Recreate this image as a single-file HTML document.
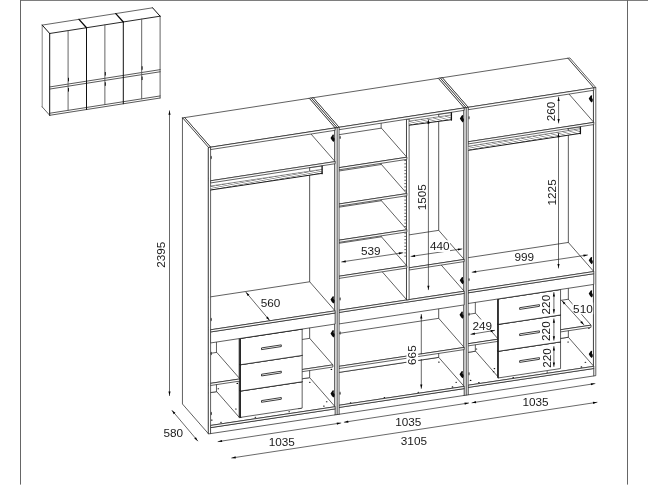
<!DOCTYPE html>
<html>
<head>
<meta charset="utf-8">
<title>Wardrobe dimensions</title>
<style>
html,body{margin:0;padding:0;background:#fff;}
body{width:648px;height:486px;overflow:hidden;}
svg{display:block;will-change:transform;}
text{font-family:"Liberation Sans",sans-serif;fill:#1a1a1a;}
</style>
</head>
<body>
<svg width="648" height="486" viewBox="0 0 648 486">
<rect x="0" y="0" width="648" height="486" fill="#fff"/>
<g stroke-linejoin="round" stroke-linecap="round">
<polygon points="567.89,58.26 569.90,57.95 595.80,87.55 593.80,87.86" fill="#fff" stroke="#1c1c1c" stroke-width="0.7" />
<polygon points="567.89,346.35 593.80,375.95 593.80,87.86 567.89,58.26" fill="#fff" stroke="#1c1c1c" stroke-width="0.7" />
<polygon points="593.80,375.95 595.80,375.65 595.80,87.55 593.80,87.86" fill="#fff" stroke="#1c1c1c" stroke-width="0.7" />
<polygon points="467.37,386.49 592.99,367.57 593.80,368.49 468.17,387.41" fill="#fff" stroke="#1c1c1c" stroke-width="0.7" />
<polygon points="467.37,393.93 468.17,394.85 468.17,387.41 467.37,386.49" fill="#fff" stroke="#1c1c1c" stroke-width="0.7" />
<polygon points="468.17,394.85 593.80,375.95 593.80,368.49 468.17,387.41" fill="#fff" stroke="#1c1c1c" stroke-width="0.7" />
<polygon points="442.71,356.16 568.34,337.24 593.80,366.33 468.17,385.25" fill="#fff" stroke="#1c1c1c" stroke-width="0.7" />
<polygon points="442.71,358.32 468.17,387.41 468.17,385.25 442.71,356.16" fill="#fff" stroke="#1c1c1c" stroke-width="0.7" />
<polygon points="468.17,387.41 593.80,368.49 593.80,366.33 468.17,385.25" fill="#fff" stroke="#1c1c1c" stroke-width="0.7" />
<polygon points="442.27,80.11 567.89,60.67 568.34,61.18 442.71,80.62" fill="#fff" stroke="#1c1c1c" stroke-width="0.7" />
<polygon points="442.27,355.65 442.71,356.16 442.71,80.62 442.27,80.11" fill="#fff" stroke="#1c1c1c" stroke-width="0.7" />
<polygon points="442.71,356.16 568.34,337.24 568.34,61.18 442.71,80.62" fill="#fff" stroke="#1c1c1c" stroke-width="0.7" />
<polygon points="442.71,112.68 568.34,93.29 593.80,122.38 468.17,141.77" fill="#fff" stroke="#1c1c1c" stroke-width="0.7" />
<polygon points="442.71,114.84 468.17,143.93 468.17,141.77 442.71,112.68" fill="#fff" stroke="#1c1c1c" stroke-width="0.7" />
<polygon points="468.17,143.93 593.80,124.55 593.80,122.38 468.17,141.77" fill="#fff" stroke="#1c1c1c" stroke-width="0.7" />
<polygon points="442.27,77.71 567.89,58.26 593.80,87.86 468.17,107.31" fill="#fff" stroke="#1c1c1c" stroke-width="0.7" />
<polygon points="442.27,80.11 468.17,109.71 468.17,107.31 442.27,77.71" fill="#fff" stroke="#1c1c1c" stroke-width="0.7" />
<polygon points="468.17,109.71 593.80,90.26 593.80,87.86 468.17,107.31" fill="#fff" stroke="#1c1c1c" stroke-width="0.7" />
<polygon points="475.60,269.76 477.85,269.42 500.63,295.45 498.38,295.79" fill="#fff" stroke="#1c1c1c" stroke-width="0.7" />
<polygon points="475.60,351.21 498.38,377.23 498.38,295.79 475.60,269.76" fill="#fff" stroke="#1c1c1c" stroke-width="0.7" />
<polygon points="498.38,377.23 500.63,376.89 500.63,295.45 498.38,295.79" fill="#fff" stroke="#1c1c1c" stroke-width="0.7" />
<polygon points="442.71,318.22 475.60,313.25 498.29,339.17 465.40,344.14" fill="#fff" stroke="#1c1c1c" stroke-width="0.7" />
<polygon points="442.71,320.38 465.40,346.30 465.40,344.14 442.71,318.22" fill="#fff" stroke="#1c1c1c" stroke-width="0.7" />
<polygon points="465.40,346.30 498.29,341.33 498.29,339.17 465.40,344.14" fill="#fff" stroke="#1c1c1c" stroke-width="0.7" />
<polygon points="536.85,303.99 568.34,299.23 591.03,325.15 559.54,329.91" fill="#fff" stroke="#1c1c1c" stroke-width="0.7" />
<polygon points="536.85,306.15 559.54,332.08 559.54,329.91 536.85,303.99" fill="#fff" stroke="#1c1c1c" stroke-width="0.7" />
<polygon points="559.54,332.08 591.03,327.32 591.03,325.15 559.54,329.91" fill="#fff" stroke="#1c1c1c" stroke-width="0.7" />
<polygon points="534.59,260.81 536.85,260.46 559.63,286.49 557.37,286.83" fill="#fff" stroke="#1c1c1c" stroke-width="0.7" />
<polygon points="534.59,342.32 557.37,368.35 557.37,286.83 534.59,260.81" fill="#fff" stroke="#1c1c1c" stroke-width="0.7" />
<polygon points="557.37,368.35 559.63,368.01 559.63,286.49 557.37,286.83" fill="#fff" stroke="#1c1c1c" stroke-width="0.7" />
<polygon points="497.95,350.87 560.19,341.47 560.55,341.88 498.31,351.28" fill="#fff" stroke="#1c1c1c" stroke-width="0.7" />
<polygon points="497.95,377.54 498.31,377.94 498.31,351.28 497.95,350.87" fill="#fff" stroke="#1c1c1c" stroke-width="0.7" />
<polygon points="498.31,377.94 560.55,368.57 560.55,341.88 498.31,351.28" fill="#fff" stroke="#1c1c1c" stroke-width="0.7" />
<line x1="498.31" y1="377.94" x2="498.31" y2="351.28" stroke="#1c1c1c" stroke-width="0.9" />
<line x1="498.31" y1="351.28" x2="560.55" y2="341.88" stroke="#1c1c1c" stroke-width="1.0" />
<polygon points="497.95,323.97 560.19,314.54 560.55,314.95 498.31,324.37" fill="#fff" stroke="#1c1c1c" stroke-width="0.7" />
<polygon points="497.95,350.87 498.31,351.28 498.31,324.37 497.95,323.97" fill="#fff" stroke="#1c1c1c" stroke-width="0.7" />
<polygon points="498.31,351.28 560.55,341.88 560.55,314.95 498.31,324.37" fill="#fff" stroke="#1c1c1c" stroke-width="0.7" />
<line x1="498.31" y1="351.28" x2="498.31" y2="324.37" stroke="#1c1c1c" stroke-width="0.9" />
<line x1="498.31" y1="324.37" x2="560.55" y2="314.95" stroke="#1c1c1c" stroke-width="1.0" />
<polygon points="497.95,298.50 560.19,289.05 560.55,289.46 498.31,298.91" fill="#fff" stroke="#1c1c1c" stroke-width="0.7" />
<polygon points="497.95,323.97 498.31,324.37 498.31,298.91 497.95,298.50" fill="#fff" stroke="#1c1c1c" stroke-width="0.7" />
<polygon points="498.31,324.37 560.55,314.95 560.55,289.46 498.31,298.91" fill="#fff" stroke="#1c1c1c" stroke-width="0.7" />
<line x1="498.31" y1="324.37" x2="498.31" y2="298.91" stroke="#1c1c1c" stroke-width="0.9" />
<line x1="498.31" y1="298.91" x2="560.55" y2="289.46" stroke="#1c1c1c" stroke-width="1.0" />
<polygon points="467.37,291.88 592.99,272.79 593.80,273.70 468.17,292.80" fill="#fff" stroke="#1c1c1c" stroke-width="0.7" />
<polygon points="467.37,302.57 468.17,303.49 468.17,292.80 467.37,291.88" fill="#fff" stroke="#1c1c1c" stroke-width="0.7" />
<polygon points="468.17,303.49 593.80,284.41 593.80,273.70 468.17,292.80" fill="#fff" stroke="#1c1c1c" stroke-width="0.7" />
<polygon points="442.71,261.55 568.34,242.45 593.80,271.54 468.17,290.64" fill="#fff" stroke="#1c1c1c" stroke-width="0.7" />
<polygon points="442.71,263.71 468.17,292.80 468.17,290.64 442.71,261.55" fill="#fff" stroke="#1c1c1c" stroke-width="0.7" />
<polygon points="468.17,292.80 593.80,273.70 593.80,271.54 468.17,290.64" fill="#fff" stroke="#1c1c1c" stroke-width="0.7" />
<polygon points="440.27,78.02 442.27,77.71 468.17,107.31 466.17,107.62" fill="#fff" stroke="#1c1c1c" stroke-width="0.7" />
<polygon points="440.27,365.55 466.17,395.15 466.17,107.62 440.27,78.02" fill="#fff" stroke="#1c1c1c" stroke-width="0.7" />
<polygon points="466.17,395.15 468.17,394.85 468.17,107.31 466.17,107.62" fill="#fff" stroke="#1c1c1c" stroke-width="0.7" />
<polygon points="438.27,78.33 440.27,78.02 466.17,107.62 464.17,107.93" fill="#fff" stroke="#1c1c1c" stroke-width="0.7" />
<polygon points="438.27,365.86 464.17,395.45 464.17,107.93 438.27,78.33" fill="#fff" stroke="#1c1c1c" stroke-width="0.7" />
<polygon points="464.17,395.45 466.17,395.15 466.17,107.62 464.17,107.93" fill="#fff" stroke="#1c1c1c" stroke-width="0.7" />
<polygon points="338.29,406.52 463.37,387.69 464.17,388.61 339.09,407.44" fill="#fff" stroke="#1c1c1c" stroke-width="0.7" />
<polygon points="338.29,413.35 339.09,414.27 339.09,407.44 338.29,406.52" fill="#fff" stroke="#1c1c1c" stroke-width="0.7" />
<polygon points="339.09,414.27 464.17,395.45 464.17,388.61 339.09,407.44" fill="#fff" stroke="#1c1c1c" stroke-width="0.7" />
<polygon points="313.64,376.20 438.71,357.36 464.17,386.45 339.09,405.28" fill="#fff" stroke="#1c1c1c" stroke-width="0.7" />
<polygon points="313.64,378.35 339.09,407.44 339.09,405.28 313.64,376.20" fill="#fff" stroke="#1c1c1c" stroke-width="0.7" />
<polygon points="339.09,407.44 464.17,388.61 464.17,386.45 339.09,405.28" fill="#fff" stroke="#1c1c1c" stroke-width="0.7" />
<polygon points="313.19,100.09 438.27,80.73 438.71,81.24 313.64,100.60" fill="#fff" stroke="#1c1c1c" stroke-width="0.7" />
<polygon points="313.19,375.68 313.64,376.20 313.64,100.60 313.19,100.09" fill="#fff" stroke="#1c1c1c" stroke-width="0.7" />
<polygon points="313.64,376.20 438.71,357.36 438.71,81.24 313.64,100.60" fill="#fff" stroke="#1c1c1c" stroke-width="0.7" />
<polygon points="338.29,311.50 463.37,292.49 464.17,293.41 339.09,312.42" fill="#fff" stroke="#1c1c1c" stroke-width="0.7" />
<polygon points="338.29,323.00 339.09,323.92 339.09,312.42 338.29,311.50" fill="#fff" stroke="#1c1c1c" stroke-width="0.7" />
<polygon points="339.09,323.92 464.17,304.93 464.17,293.41 339.09,312.42" fill="#fff" stroke="#1c1c1c" stroke-width="0.7" />
<polygon points="313.64,281.18 438.71,262.16 464.17,291.25 339.09,310.26" fill="#fff" stroke="#1c1c1c" stroke-width="0.7" />
<polygon points="313.64,283.33 339.09,312.42 339.09,310.26 313.64,281.18" fill="#fff" stroke="#1c1c1c" stroke-width="0.7" />
<polygon points="339.09,312.42 464.17,293.41 464.17,291.25 339.09,310.26" fill="#fff" stroke="#1c1c1c" stroke-width="0.7" />
<polygon points="313.64,337.25 438.71,318.34 464.17,347.43 339.09,366.34" fill="#fff" stroke="#1c1c1c" stroke-width="0.7" />
<polygon points="313.64,339.41 339.09,368.50 339.09,366.34 313.64,337.25" fill="#fff" stroke="#1c1c1c" stroke-width="0.7" />
<polygon points="339.09,368.50 464.17,349.59 464.17,347.43 339.09,366.34" fill="#fff" stroke="#1c1c1c" stroke-width="0.7" />
<polygon points="383.65,238.74 438.71,230.35 464.17,259.43 409.11,267.83" fill="#fff" stroke="#1c1c1c" stroke-width="0.7" />
<polygon points="383.65,240.90 409.11,269.99 409.11,267.83 383.65,238.74" fill="#fff" stroke="#1c1c1c" stroke-width="0.7" />
<polygon points="409.11,269.99 464.17,261.59 464.17,259.43 409.11,267.83" fill="#fff" stroke="#1c1c1c" stroke-width="0.7" />
<polygon points="381.41,90.11 383.65,89.76 409.11,118.85 406.87,119.20" fill="#fff" stroke="#1c1c1c" stroke-width="0.7" />
<polygon points="381.41,270.87 406.87,299.96 406.87,119.20 381.41,90.11" fill="#fff" stroke="#1c1c1c" stroke-width="0.7" />
<polygon points="406.87,299.96 409.11,299.62 409.11,118.85 406.87,119.20" fill="#fff" stroke="#1c1c1c" stroke-width="0.7" />
<polygon points="313.19,97.70 438.27,78.33 464.17,107.93 339.09,127.29" fill="#fff" stroke="#1c1c1c" stroke-width="0.7" />
<polygon points="313.19,100.09 339.09,129.69 339.09,127.29 313.19,97.70" fill="#fff" stroke="#1c1c1c" stroke-width="0.7" />
<polygon points="339.09,129.69 464.17,110.33 464.17,107.93 339.09,127.29" fill="#fff" stroke="#1c1c1c" stroke-width="0.7" />
<polygon points="313.64,138.59 381.41,128.14 406.87,157.22 339.09,167.67" fill="#fff" stroke="#1c1c1c" stroke-width="0.7" />
<polygon points="313.64,140.74 339.09,169.83 339.09,167.67 313.64,138.59" fill="#fff" stroke="#1c1c1c" stroke-width="0.7" />
<polygon points="339.09,169.83 406.87,159.38 406.87,157.22 339.09,167.67" fill="#fff" stroke="#1c1c1c" stroke-width="0.7" />
<polygon points="313.64,174.89 381.41,164.48 406.87,193.57 339.09,203.98" fill="#fff" stroke="#1c1c1c" stroke-width="0.7" />
<polygon points="313.64,177.05 339.09,206.14 339.09,203.98 313.64,174.89" fill="#fff" stroke="#1c1c1c" stroke-width="0.7" />
<polygon points="339.09,206.14 406.87,195.73 406.87,193.57 339.09,203.98" fill="#fff" stroke="#1c1c1c" stroke-width="0.7" />
<polygon points="313.64,211.08 381.41,200.70 406.87,229.79 339.09,240.17" fill="#fff" stroke="#1c1c1c" stroke-width="0.7" />
<polygon points="313.64,213.24 339.09,242.32 339.09,240.17 313.64,211.08" fill="#fff" stroke="#1c1c1c" stroke-width="0.7" />
<polygon points="339.09,242.32 406.87,231.95 406.87,229.79 339.09,240.17" fill="#fff" stroke="#1c1c1c" stroke-width="0.7" />
<polygon points="313.64,247.15 381.41,236.81 406.87,265.89 339.09,276.23" fill="#fff" stroke="#1c1c1c" stroke-width="0.7" />
<polygon points="313.64,249.30 339.09,278.39 339.09,276.23 313.64,247.15" fill="#fff" stroke="#1c1c1c" stroke-width="0.7" />
<polygon points="339.09,278.39 406.87,268.05 406.87,265.89 339.09,276.23" fill="#fff" stroke="#1c1c1c" stroke-width="0.7" />
<polygon points="311.20,98.00 313.19,97.70 339.09,127.29 337.10,127.60" fill="#fff" stroke="#1c1c1c" stroke-width="0.7" />
<polygon points="311.20,384.97 337.10,414.57 337.10,127.60 311.20,98.00" fill="#fff" stroke="#1c1c1c" stroke-width="0.7" />
<polygon points="337.10,414.57 339.09,414.27 339.09,127.29 337.10,127.60" fill="#fff" stroke="#1c1c1c" stroke-width="0.7" />
<polygon points="309.21,98.31 311.20,98.00 337.10,127.60 335.11,127.91" fill="#fff" stroke="#1c1c1c" stroke-width="0.7" />
<polygon points="309.21,385.27 335.11,414.87 335.11,127.91 309.21,98.31" fill="#fff" stroke="#1c1c1c" stroke-width="0.7" />
<polygon points="335.11,414.87 337.10,414.57 337.10,127.60 335.11,127.91" fill="#fff" stroke="#1c1c1c" stroke-width="0.7" />
<polygon points="209.78,426.70 334.31,407.96 335.11,408.88 210.58,427.62" fill="#fff" stroke="#1c1c1c" stroke-width="0.7" />
<polygon points="209.78,432.68 210.58,433.60 210.58,427.62 209.78,426.70" fill="#fff" stroke="#1c1c1c" stroke-width="0.7" />
<polygon points="210.58,433.60 335.11,414.87 335.11,408.88 210.58,427.62" fill="#fff" stroke="#1c1c1c" stroke-width="0.7" />
<polygon points="185.13,396.38 309.66,377.63 335.11,406.72 210.58,425.47" fill="#fff" stroke="#1c1c1c" stroke-width="0.7" />
<polygon points="185.13,398.53 210.58,427.62 210.58,425.47 185.13,396.38" fill="#fff" stroke="#1c1c1c" stroke-width="0.7" />
<polygon points="210.58,427.62 335.11,408.88 335.11,406.72 210.58,425.47" fill="#fff" stroke="#1c1c1c" stroke-width="0.7" />
<polygon points="184.68,119.98 309.21,100.71 309.66,101.22 185.13,120.50" fill="#fff" stroke="#1c1c1c" stroke-width="0.7" />
<polygon points="184.68,395.87 185.13,396.38 185.13,120.50 184.68,119.98" fill="#fff" stroke="#1c1c1c" stroke-width="0.7" />
<polygon points="185.13,396.38 309.66,377.63 309.66,101.22 185.13,120.50" fill="#fff" stroke="#1c1c1c" stroke-width="0.7" />
<polygon points="185.13,151.71 309.66,132.49 335.11,161.58 210.58,180.79" fill="#fff" stroke="#1c1c1c" stroke-width="0.7" />
<polygon points="185.13,153.86 210.58,182.95 210.58,180.79 185.13,151.71" fill="#fff" stroke="#1c1c1c" stroke-width="0.7" />
<polygon points="210.58,182.95 335.11,163.73 335.11,161.58 210.58,180.79" fill="#fff" stroke="#1c1c1c" stroke-width="0.7" />
<polygon points="184.68,117.59 309.21,98.31 335.11,127.91 210.58,147.19" fill="#fff" stroke="#1c1c1c" stroke-width="0.7" />
<polygon points="184.68,119.98 210.58,149.58 210.58,147.19 184.68,117.59" fill="#fff" stroke="#1c1c1c" stroke-width="0.7" />
<polygon points="210.58,149.58 335.11,130.31 335.11,127.91 210.58,147.19" fill="#fff" stroke="#1c1c1c" stroke-width="0.7" />
<polygon points="216.74,309.07 218.97,308.73 241.75,334.75 239.51,335.09" fill="#fff" stroke="#1c1c1c" stroke-width="0.7" />
<polygon points="216.74,391.62 239.51,417.65 239.51,335.09 216.74,309.07" fill="#fff" stroke="#1c1c1c" stroke-width="0.7" />
<polygon points="239.51,417.65 241.75,417.31 241.75,334.75 239.51,335.09" fill="#fff" stroke="#1c1c1c" stroke-width="0.7" />
<polygon points="185.13,357.16 216.74,352.38 239.96,378.91 208.35,383.69" fill="#fff" stroke="#1c1c1c" stroke-width="0.7" />
<polygon points="185.13,359.31 208.35,385.84 208.35,383.69 185.13,357.16" fill="#fff" stroke="#1c1c1c" stroke-width="0.7" />
<polygon points="208.35,385.84 239.96,381.07 239.96,378.91 208.35,383.69" fill="#fff" stroke="#1c1c1c" stroke-width="0.7" />
<polygon points="278.44,343.05 309.66,338.33 332.88,364.87 301.67,369.59" fill="#fff" stroke="#1c1c1c" stroke-width="0.7" />
<polygon points="278.44,345.21 301.67,371.74 301.67,369.59 278.44,343.05" fill="#fff" stroke="#1c1c1c" stroke-width="0.7" />
<polygon points="301.67,371.74 332.88,367.03 332.88,364.87 301.67,369.59" fill="#fff" stroke="#1c1c1c" stroke-width="0.7" />
<polygon points="276.21,300.04 278.44,299.70 301.22,325.72 298.98,326.06" fill="#fff" stroke="#1c1c1c" stroke-width="0.7" />
<polygon points="276.21,382.67 298.98,408.69 298.98,326.06 276.21,300.04" fill="#fff" stroke="#1c1c1c" stroke-width="0.7" />
<polygon points="298.98,408.69 301.22,408.36 301.22,325.72 298.98,326.06" fill="#fff" stroke="#1c1c1c" stroke-width="0.7" />
<polygon points="240.10,390.65 301.80,381.33 302.16,381.74 240.46,391.06" fill="#fff" stroke="#1c1c1c" stroke-width="0.7" />
<polygon points="240.10,416.97 240.46,417.38 240.46,391.06 240.10,390.65" fill="#fff" stroke="#1c1c1c" stroke-width="0.7" />
<polygon points="240.46,417.38 302.16,408.09 302.16,381.74 240.46,391.06" fill="#fff" stroke="#1c1c1c" stroke-width="0.7" />
<line x1="240.46" y1="417.38" x2="240.46" y2="391.06" stroke="#1c1c1c" stroke-width="0.9" />
<line x1="240.46" y1="391.06" x2="302.16" y2="381.74" stroke="#1c1c1c" stroke-width="1.0" />
<polygon points="240.10,364.33 301.80,354.99 302.16,355.40 240.46,364.74" fill="#fff" stroke="#1c1c1c" stroke-width="0.7" />
<polygon points="240.10,390.65 240.46,391.06 240.46,364.74 240.10,364.33" fill="#fff" stroke="#1c1c1c" stroke-width="0.7" />
<polygon points="240.46,391.06 302.16,381.74 302.16,355.40 240.46,364.74" fill="#fff" stroke="#1c1c1c" stroke-width="0.7" />
<line x1="240.46" y1="391.06" x2="240.46" y2="364.74" stroke="#1c1c1c" stroke-width="0.9" />
<line x1="240.46" y1="364.74" x2="302.16" y2="355.40" stroke="#1c1c1c" stroke-width="1.0" />
<polygon points="240.10,338.01 301.80,328.64 302.16,329.05 240.46,338.42" fill="#fff" stroke="#1c1c1c" stroke-width="0.7" />
<polygon points="240.10,364.33 240.46,364.74 240.46,338.42 240.10,338.01" fill="#fff" stroke="#1c1c1c" stroke-width="0.7" />
<polygon points="240.46,364.74 302.16,355.40 302.16,329.05 240.46,338.42" fill="#fff" stroke="#1c1c1c" stroke-width="0.7" />
<line x1="240.46" y1="364.74" x2="240.46" y2="338.42" stroke="#1c1c1c" stroke-width="0.9" />
<line x1="240.46" y1="338.42" x2="302.16" y2="329.05" stroke="#1c1c1c" stroke-width="1.0" />
<polygon points="209.78,331.03 334.31,312.11 335.11,313.02 210.58,331.95" fill="#fff" stroke="#1c1c1c" stroke-width="0.7" />
<polygon points="209.78,342.03 210.58,342.95 210.58,331.95 209.78,331.03" fill="#fff" stroke="#1c1c1c" stroke-width="0.7" />
<polygon points="210.58,342.95 335.11,324.05 335.11,313.02 210.58,331.95" fill="#fff" stroke="#1c1c1c" stroke-width="0.7" />
<polygon points="185.13,300.71 309.66,281.78 335.11,310.87 210.58,329.80" fill="#fff" stroke="#1c1c1c" stroke-width="0.7" />
<polygon points="185.13,302.86 210.58,331.95 210.58,329.80 185.13,300.71" fill="#fff" stroke="#1c1c1c" stroke-width="0.7" />
<polygon points="210.58,331.95 335.11,313.02 335.11,310.87 210.58,329.80" fill="#fff" stroke="#1c1c1c" stroke-width="0.7" />
<polygon points="182.70,117.90 184.68,117.59 210.58,147.19 208.60,147.50" fill="#fff" stroke="#1c1c1c" stroke-width="0.7" />
<polygon points="182.70,404.30 208.60,433.90 208.60,147.50 182.70,117.90" fill="#fff" stroke="#1c1c1c" stroke-width="0.7" />
<polygon points="208.60,433.90 210.58,433.60 210.58,147.19 208.60,147.50" fill="#fff" stroke="#1c1c1c" stroke-width="0.7" />
</g>
<g stroke-linecap="round">
<polygon points="210.70,186.00 322.10,169.35 322.10,173.35 210.70,190.00" fill="#fff" stroke="none" stroke-width="0" />
<line x1="210.70" y1="188.65" x2="213.34" y2="189.31" stroke="#5a5a5a" stroke-width="0.7" />
<line x1="210.70" y1="186.30" x2="219.20" y2="188.43" stroke="#5a5a5a" stroke-width="0.7" />
<line x1="216.56" y1="185.42" x2="225.06" y2="187.55" stroke="#5a5a5a" stroke-width="0.7" />
<line x1="222.43" y1="184.55" x2="230.93" y2="186.68" stroke="#5a5a5a" stroke-width="0.7" />
<line x1="228.29" y1="183.67" x2="236.79" y2="185.80" stroke="#5a5a5a" stroke-width="0.7" />
<line x1="234.15" y1="182.79" x2="242.65" y2="184.92" stroke="#5a5a5a" stroke-width="0.7" />
<line x1="240.02" y1="181.92" x2="248.52" y2="184.05" stroke="#5a5a5a" stroke-width="0.7" />
<line x1="245.88" y1="181.04" x2="254.38" y2="183.17" stroke="#5a5a5a" stroke-width="0.7" />
<line x1="251.74" y1="180.16" x2="260.24" y2="182.29" stroke="#5a5a5a" stroke-width="0.7" />
<line x1="257.61" y1="179.29" x2="266.11" y2="181.42" stroke="#5a5a5a" stroke-width="0.7" />
<line x1="263.47" y1="178.41" x2="271.97" y2="180.54" stroke="#5a5a5a" stroke-width="0.7" />
<line x1="269.33" y1="177.53" x2="277.83" y2="179.66" stroke="#5a5a5a" stroke-width="0.7" />
<line x1="275.19" y1="176.66" x2="283.69" y2="178.79" stroke="#5a5a5a" stroke-width="0.7" />
<line x1="281.06" y1="175.78" x2="289.56" y2="177.91" stroke="#5a5a5a" stroke-width="0.7" />
<line x1="286.92" y1="174.90" x2="295.42" y2="177.03" stroke="#5a5a5a" stroke-width="0.7" />
<line x1="292.78" y1="174.03" x2="301.28" y2="176.16" stroke="#5a5a5a" stroke-width="0.7" />
<line x1="298.65" y1="173.15" x2="307.15" y2="175.28" stroke="#5a5a5a" stroke-width="0.7" />
<line x1="304.51" y1="172.28" x2="313.01" y2="174.40" stroke="#5a5a5a" stroke-width="0.7" />
<line x1="310.37" y1="171.40" x2="318.87" y2="173.53" stroke="#5a5a5a" stroke-width="0.7" />
<line x1="316.24" y1="170.52" x2="322.10" y2="171.99" stroke="#5a5a5a" stroke-width="0.7" />
<line x1="210.70" y1="186.00" x2="322.10" y2="169.35" stroke="#444" stroke-width="0.6" />
<line x1="210.70" y1="190.00" x2="322.10" y2="173.35" stroke="#111" stroke-width="0.95" />
<line x1="322.10" y1="166.05" x2="322.10" y2="173.65" stroke="#111" stroke-width="1.3" />
<line x1="309.60" y1="167.73" x2="322.10" y2="166.05" stroke="#333" stroke-width="0.55" />
<polygon points="409.30,121.05 451.40,115.00 451.40,119.70 409.30,125.20" fill="#fff" stroke="none" stroke-width="0" />
<line x1="409.30" y1="123.86" x2="411.79" y2="124.58" stroke="#5a5a5a" stroke-width="0.7" />
<line x1="409.30" y1="121.35" x2="417.80" y2="123.79" stroke="#5a5a5a" stroke-width="0.7" />
<line x1="415.31" y1="120.49" x2="423.81" y2="123.00" stroke="#5a5a5a" stroke-width="0.7" />
<line x1="421.33" y1="119.62" x2="429.83" y2="122.22" stroke="#5a5a5a" stroke-width="0.7" />
<line x1="427.34" y1="118.76" x2="435.84" y2="121.43" stroke="#5a5a5a" stroke-width="0.7" />
<line x1="433.36" y1="117.89" x2="441.86" y2="120.65" stroke="#5a5a5a" stroke-width="0.7" />
<line x1="439.37" y1="117.03" x2="447.87" y2="119.86" stroke="#5a5a5a" stroke-width="0.7" />
<line x1="445.39" y1="116.16" x2="451.40" y2="118.20" stroke="#5a5a5a" stroke-width="0.7" />
<line x1="409.30" y1="121.05" x2="451.40" y2="115.00" stroke="#444" stroke-width="0.6" />
<line x1="409.30" y1="125.20" x2="451.40" y2="119.70" stroke="#111" stroke-width="0.95" />
<line x1="451.40" y1="112.70" x2="451.40" y2="120.00" stroke="#111" stroke-width="1.3" />
<line x1="438.70" y1="114.34" x2="451.40" y2="112.70" stroke="#333" stroke-width="0.55" />
<polygon points="468.70,146.20 580.40,128.66 580.40,133.36 468.70,150.30" fill="#fff" stroke="none" stroke-width="0" />
<line x1="468.70" y1="148.92" x2="471.32" y2="149.60" stroke="#5a5a5a" stroke-width="0.7" />
<line x1="468.70" y1="146.50" x2="477.20" y2="148.71" stroke="#5a5a5a" stroke-width="0.7" />
<line x1="474.58" y1="145.58" x2="483.08" y2="147.82" stroke="#5a5a5a" stroke-width="0.7" />
<line x1="480.46" y1="144.65" x2="488.96" y2="146.93" stroke="#5a5a5a" stroke-width="0.7" />
<line x1="486.34" y1="143.73" x2="494.84" y2="146.04" stroke="#5a5a5a" stroke-width="0.7" />
<line x1="492.22" y1="142.81" x2="500.72" y2="145.15" stroke="#5a5a5a" stroke-width="0.7" />
<line x1="498.09" y1="141.89" x2="506.59" y2="144.25" stroke="#5a5a5a" stroke-width="0.7" />
<line x1="503.97" y1="140.96" x2="512.47" y2="143.36" stroke="#5a5a5a" stroke-width="0.7" />
<line x1="509.85" y1="140.04" x2="518.35" y2="142.47" stroke="#5a5a5a" stroke-width="0.7" />
<line x1="515.73" y1="139.12" x2="524.23" y2="141.58" stroke="#5a5a5a" stroke-width="0.7" />
<line x1="521.61" y1="138.19" x2="530.11" y2="140.69" stroke="#5a5a5a" stroke-width="0.7" />
<line x1="527.49" y1="137.27" x2="535.99" y2="139.80" stroke="#5a5a5a" stroke-width="0.7" />
<line x1="533.37" y1="136.35" x2="541.87" y2="138.91" stroke="#5a5a5a" stroke-width="0.7" />
<line x1="539.25" y1="135.42" x2="547.75" y2="138.01" stroke="#5a5a5a" stroke-width="0.7" />
<line x1="545.13" y1="134.50" x2="553.63" y2="137.12" stroke="#5a5a5a" stroke-width="0.7" />
<line x1="551.01" y1="133.58" x2="559.51" y2="136.23" stroke="#5a5a5a" stroke-width="0.7" />
<line x1="556.88" y1="132.66" x2="565.38" y2="135.34" stroke="#5a5a5a" stroke-width="0.7" />
<line x1="562.76" y1="131.73" x2="571.26" y2="134.45" stroke="#5a5a5a" stroke-width="0.7" />
<line x1="568.64" y1="130.81" x2="577.14" y2="133.56" stroke="#5a5a5a" stroke-width="0.7" />
<line x1="574.52" y1="129.89" x2="580.40" y2="131.80" stroke="#5a5a5a" stroke-width="0.7" />
<line x1="468.70" y1="146.20" x2="580.40" y2="128.66" stroke="#444" stroke-width="0.6" />
<line x1="468.70" y1="150.30" x2="580.40" y2="133.36" stroke="#111" stroke-width="0.95" />
<line x1="580.40" y1="127.06" x2="580.40" y2="133.66" stroke="#111" stroke-width="1.3" />
<line x1="567.40" y1="128.90" x2="580.40" y2="127.06" stroke="#333" stroke-width="0.55" />
<path d="M330.50,137.90 L332.80,134.50 L333.90,134.80 L333.70,137.30 L334.60,138.50 L334.50,140.50 L333.40,141.90 L331.90,140.20 Z" fill="#0a0a0a"/>
<path d="M330.50,299.60 L332.80,296.20 L333.90,296.50 L333.70,299.00 L334.60,300.20 L334.50,302.20 L333.40,303.60 L331.90,301.90 Z" fill="#0a0a0a"/>
<path d="M330.50,333.50 L332.80,330.10 L333.90,330.40 L333.70,332.90 L334.60,334.10 L334.50,336.10 L333.40,337.50 L331.90,335.80 Z" fill="#0a0a0a"/>
<path d="M330.50,393.60 L332.80,390.20 L333.90,390.50 L333.70,393.00 L334.60,394.20 L334.50,396.20 L333.40,397.60 L331.90,395.90 Z" fill="#0a0a0a"/>
<path d="M459.80,118.50 L462.10,115.10 L463.20,115.40 L463.00,117.90 L463.90,119.10 L463.80,121.10 L462.70,122.50 L461.20,120.80 Z" fill="#0a0a0a"/>
<path d="M459.70,280.30 L462.00,276.90 L463.10,277.20 L462.90,279.70 L463.80,280.90 L463.70,282.90 L462.60,284.30 L461.10,282.60 Z" fill="#0a0a0a"/>
<path d="M459.50,314.80 L461.80,311.40 L462.90,311.70 L462.70,314.20 L463.60,315.40 L463.50,317.40 L462.40,318.80 L460.90,317.10 Z" fill="#0a0a0a"/>
<path d="M459.50,374.30 L461.80,370.90 L462.90,371.20 L462.70,373.70 L463.60,374.90 L463.50,376.90 L462.40,378.30 L460.90,376.60 Z" fill="#0a0a0a"/>
<path d="M588.70,98.60 L591.00,95.20 L592.10,95.50 L591.90,98.00 L592.80,99.20 L592.70,101.20 L591.60,102.60 L590.10,100.90 Z" fill="#0a0a0a"/>
<path d="M588.70,260.30 L591.00,256.90 L592.10,257.20 L591.90,259.70 L592.80,260.90 L592.70,262.90 L591.60,264.30 L590.10,262.60 Z" fill="#0a0a0a"/>
<path d="M588.70,293.60 L591.00,290.20 L592.10,290.50 L591.90,293.00 L592.80,294.20 L592.70,296.20 L591.60,297.60 L590.10,295.90 Z" fill="#0a0a0a"/>
<path d="M588.70,354.10 L591.00,350.70 L592.10,351.00 L591.90,353.50 L592.80,354.70 L592.70,356.70 L591.60,358.10 L590.10,356.40 Z" fill="#0a0a0a"/>
<ellipse cx="340.10" cy="137.40" rx="0.7" ry="1.7" fill="#4a4a4a"/>
<ellipse cx="340.10" cy="298.90" rx="0.7" ry="1.7" fill="#4a4a4a"/>
<ellipse cx="340.10" cy="333.00" rx="0.7" ry="1.7" fill="#4a4a4a"/>
<ellipse cx="340.00" cy="393.30" rx="0.7" ry="1.7" fill="#4a4a4a"/>
<ellipse cx="469.00" cy="117.80" rx="0.7" ry="1.7" fill="#4a4a4a"/>
<ellipse cx="469.00" cy="279.60" rx="0.7" ry="1.7" fill="#4a4a4a"/>
<ellipse cx="469.00" cy="314.20" rx="0.7" ry="1.7" fill="#4a4a4a"/>
<ellipse cx="469.00" cy="373.80" rx="0.7" ry="1.7" fill="#4a4a4a"/>
<ellipse cx="211.20" cy="157.50" rx="0.7" ry="1.7" fill="#4a4a4a"/>
<ellipse cx="211.20" cy="319.50" rx="0.7" ry="1.7" fill="#4a4a4a"/>
<ellipse cx="211.30" cy="353.50" rx="0.7" ry="1.7" fill="#4a4a4a"/>
<ellipse cx="211.30" cy="413.50" rx="0.7" ry="1.7" fill="#4a4a4a"/>
<ellipse cx="218.30" cy="388.80" rx="0.85" ry="0.55" fill="#0a0a0a"/>
<ellipse cx="237.30" cy="383.40" rx="0.85" ry="0.55" fill="#0a0a0a"/>
<ellipse cx="235.90" cy="409.00" rx="0.85" ry="0.55" fill="#0a0a0a"/>
<ellipse cx="211.80" cy="420.10" rx="0.85" ry="0.55" fill="#0a0a0a"/>
<ellipse cx="221.00" cy="422.30" rx="0.85" ry="0.55" fill="#0a0a0a"/>
<ellipse cx="255.40" cy="417.30" rx="0.85" ry="0.55" fill="#0a0a0a"/>
<ellipse cx="289.20" cy="411.70" rx="0.85" ry="0.55" fill="#0a0a0a"/>
<ellipse cx="323.90" cy="406.10" rx="0.85" ry="0.55" fill="#0a0a0a"/>
<ellipse cx="326.70" cy="401.70" rx="0.85" ry="0.55" fill="#0a0a0a"/>
<ellipse cx="309.80" cy="382.20" rx="0.85" ry="0.55" fill="#0a0a0a"/>
<ellipse cx="331.40" cy="369.40" rx="0.85" ry="0.55" fill="#0a0a0a"/>
<ellipse cx="350.60" cy="402.80" rx="0.85" ry="0.55" fill="#0a0a0a"/>
<ellipse cx="384.40" cy="397.50" rx="0.85" ry="0.55" fill="#0a0a0a"/>
<ellipse cx="418.30" cy="392.30" rx="0.85" ry="0.55" fill="#0a0a0a"/>
<ellipse cx="452.50" cy="386.90" rx="0.85" ry="0.55" fill="#0a0a0a"/>
<ellipse cx="456.20" cy="382.30" rx="0.85" ry="0.55" fill="#0a0a0a"/>
<ellipse cx="438.90" cy="362.10" rx="0.85" ry="0.55" fill="#0a0a0a"/>
<ellipse cx="476.40" cy="349.00" rx="0.85" ry="0.55" fill="#0a0a0a"/>
<ellipse cx="494.40" cy="368.60" rx="0.85" ry="0.55" fill="#0a0a0a"/>
<ellipse cx="478.90" cy="382.50" rx="0.85" ry="0.55" fill="#0a0a0a"/>
<ellipse cx="470.60" cy="380.40" rx="0.85" ry="0.55" fill="#0a0a0a"/>
<ellipse cx="493.60" cy="371.70" rx="0.85" ry="0.55" fill="#0a0a0a"/>
<ellipse cx="513.20" cy="377.60" rx="0.85" ry="0.55" fill="#0a0a0a"/>
<ellipse cx="547.20" cy="372.00" rx="0.85" ry="0.55" fill="#0a0a0a"/>
<ellipse cx="581.40" cy="366.90" rx="0.85" ry="0.55" fill="#0a0a0a"/>
<ellipse cx="585.40" cy="362.30" rx="0.85" ry="0.55" fill="#0a0a0a"/>
<ellipse cx="568.10" cy="342.00" rx="0.85" ry="0.55" fill="#0a0a0a"/>
<ellipse cx="588.90" cy="328.30" rx="0.85" ry="0.55" fill="#0a0a0a"/>
<line x1="404.50" y1="160.50" x2="405.70" y2="160.50" stroke="#222" stroke-width="0.95" stroke-linecap="butt"/>
<line x1="404.50" y1="163.80" x2="405.70" y2="163.80" stroke="#222" stroke-width="0.95" stroke-linecap="butt"/>
<line x1="404.50" y1="167.10" x2="405.70" y2="167.10" stroke="#222" stroke-width="0.95" stroke-linecap="butt"/>
<line x1="404.50" y1="170.40" x2="405.70" y2="170.40" stroke="#222" stroke-width="0.95" stroke-linecap="butt"/>
<line x1="404.50" y1="173.70" x2="405.70" y2="173.70" stroke="#222" stroke-width="0.95" stroke-linecap="butt"/>
<line x1="404.50" y1="177.00" x2="405.70" y2="177.00" stroke="#222" stroke-width="0.95" stroke-linecap="butt"/>
<line x1="404.50" y1="180.30" x2="405.70" y2="180.30" stroke="#222" stroke-width="0.95" stroke-linecap="butt"/>
<line x1="404.50" y1="183.60" x2="405.70" y2="183.60" stroke="#222" stroke-width="0.95" stroke-linecap="butt"/>
<line x1="404.50" y1="186.90" x2="405.70" y2="186.90" stroke="#222" stroke-width="0.95" stroke-linecap="butt"/>
<line x1="404.50" y1="190.20" x2="405.70" y2="190.20" stroke="#222" stroke-width="0.95" stroke-linecap="butt"/>
<line x1="404.50" y1="196.80" x2="405.70" y2="196.80" stroke="#222" stroke-width="0.95" stroke-linecap="butt"/>
<line x1="404.50" y1="200.10" x2="405.70" y2="200.10" stroke="#222" stroke-width="0.95" stroke-linecap="butt"/>
<line x1="404.50" y1="203.40" x2="405.70" y2="203.40" stroke="#222" stroke-width="0.95" stroke-linecap="butt"/>
<line x1="404.50" y1="206.70" x2="405.70" y2="206.70" stroke="#222" stroke-width="0.95" stroke-linecap="butt"/>
<line x1="404.50" y1="210.00" x2="405.70" y2="210.00" stroke="#222" stroke-width="0.95" stroke-linecap="butt"/>
<line x1="404.50" y1="213.30" x2="405.70" y2="213.30" stroke="#222" stroke-width="0.95" stroke-linecap="butt"/>
<line x1="404.50" y1="216.60" x2="405.70" y2="216.60" stroke="#222" stroke-width="0.95" stroke-linecap="butt"/>
<line x1="404.50" y1="219.90" x2="405.70" y2="219.90" stroke="#222" stroke-width="0.95" stroke-linecap="butt"/>
<line x1="404.50" y1="223.20" x2="405.70" y2="223.20" stroke="#222" stroke-width="0.95" stroke-linecap="butt"/>
<line x1="404.50" y1="226.50" x2="405.70" y2="226.50" stroke="#222" stroke-width="0.95" stroke-linecap="butt"/>
<line x1="404.50" y1="233.10" x2="405.70" y2="233.10" stroke="#222" stroke-width="0.95" stroke-linecap="butt"/>
<line x1="404.50" y1="236.40" x2="405.70" y2="236.40" stroke="#222" stroke-width="0.95" stroke-linecap="butt"/>
<line x1="404.50" y1="239.70" x2="405.70" y2="239.70" stroke="#222" stroke-width="0.95" stroke-linecap="butt"/>
<line x1="404.50" y1="243.00" x2="405.70" y2="243.00" stroke="#222" stroke-width="0.95" stroke-linecap="butt"/>
<line x1="404.50" y1="246.30" x2="405.70" y2="246.30" stroke="#222" stroke-width="0.95" stroke-linecap="butt"/>
<line x1="404.50" y1="249.60" x2="405.70" y2="249.60" stroke="#222" stroke-width="0.95" stroke-linecap="butt"/>
<line x1="404.50" y1="252.90" x2="405.70" y2="252.90" stroke="#222" stroke-width="0.95" stroke-linecap="butt"/>
<line x1="404.50" y1="256.20" x2="405.70" y2="256.20" stroke="#222" stroke-width="0.95" stroke-linecap="butt"/>
<polygon points="261.90,347.86 281.30,344.87 281.30,346.57 261.90,349.56" fill="#fff" stroke="#0c0c0c" stroke-width="0.8" stroke-linejoin="round"/>
<polygon points="261.90,374.20 281.30,371.20 281.30,372.90 261.90,375.90" fill="#fff" stroke="#0c0c0c" stroke-width="0.8" stroke-linejoin="round"/>
<polygon points="261.90,400.53 281.30,397.53 281.30,399.23 261.90,402.23" fill="#fff" stroke="#0c0c0c" stroke-width="0.8" stroke-linejoin="round"/>
<polygon points="520.03,307.65 539.43,304.65 539.43,306.35 520.03,309.35" fill="#fff" stroke="#0c0c0c" stroke-width="0.8" stroke-linejoin="round"/>
<polygon points="520.03,333.84 539.43,330.85 539.43,332.55 520.03,335.54" fill="#fff" stroke="#0c0c0c" stroke-width="0.8" stroke-linejoin="round"/>
<polygon points="520.03,360.64 539.43,357.64 539.43,359.34 520.03,362.34" fill="#fff" stroke="#0c0c0c" stroke-width="0.8" stroke-linejoin="round"/>
<line x1="169.50" y1="110.80" x2="169.50" y2="395.60" stroke="#222" stroke-width="0.68" />
<polygon points="169.50,110.80 170.60,114.80 168.40,114.80" fill="#000" stroke="none"/>
<polygon points="169.50,395.60 168.40,391.60 170.60,391.60" fill="#000" stroke="none"/>
<text x="160.60" y="258.96" text-anchor="middle" font-size="11.75" transform="rotate(-90 160.60 254.75)">2395</text>
<line x1="172.00" y1="410.40" x2="197.70" y2="440.90" stroke="#222" stroke-width="0.68" />
<polygon points="172.00,410.40 175.42,412.75 173.74,414.17" fill="#000" stroke="none"/>
<polygon points="197.70,440.90 194.28,438.55 195.96,437.13" fill="#000" stroke="none"/>
<text x="173.30" y="437.41" text-anchor="middle" font-size="11.75">580</text>
<line x1="218.10" y1="441.60" x2="340.80" y2="423.00" stroke="#222" stroke-width="0.68" />
<polygon points="218.10,441.60 221.89,439.91 222.22,442.09" fill="#000" stroke="none"/>
<polygon points="340.80,423.00 337.01,424.69 336.68,422.51" fill="#000" stroke="none"/>
<text x="281.70" y="445.61" text-anchor="middle" font-size="11.75">1035</text>
<line x1="344.30" y1="422.20" x2="468.60" y2="403.00" stroke="#222" stroke-width="0.68" />
<polygon points="344.30,422.20 348.09,420.50 348.42,422.68" fill="#000" stroke="none"/>
<polygon points="468.60,403.00 464.81,404.70 464.48,402.52" fill="#000" stroke="none"/>
<text x="408.30" y="426.01" text-anchor="middle" font-size="11.75">1035</text>
<line x1="472.00" y1="402.80" x2="594.90" y2="383.60" stroke="#222" stroke-width="0.68" />
<polygon points="472.00,402.80 475.78,401.10 476.12,403.27" fill="#000" stroke="none"/>
<polygon points="594.90,383.60 591.12,385.30 590.78,383.13" fill="#000" stroke="none"/>
<text x="535.60" y="406.01" text-anchor="middle" font-size="11.75">1035</text>
<line x1="231.70" y1="458.00" x2="597.00" y2="402.30" stroke="#222" stroke-width="0.68" />
<polygon points="231.70,458.00 235.49,456.31 235.82,458.48" fill="#000" stroke="none"/>
<polygon points="597.00,402.30 593.21,403.99 592.88,401.82" fill="#000" stroke="none"/>
<text x="413.90" y="444.81" text-anchor="middle" font-size="11.75">3105</text>
<line x1="246.00" y1="292.30" x2="269.50" y2="320.30" stroke="#222" stroke-width="0.68" />
<polygon points="246.00,292.30 249.41,294.66 247.73,296.07" fill="#000" stroke="none"/>
<polygon points="269.50,320.30 266.09,317.94 267.77,316.53" fill="#000" stroke="none"/>
<text x="270.50" y="307.41" text-anchor="middle" font-size="11.75">560</text>
<line x1="341.70" y1="261.90" x2="402.80" y2="252.80" stroke="#222" stroke-width="0.68" />
<polygon points="341.70,261.90 345.49,260.22 345.82,262.40" fill="#000" stroke="none"/>
<polygon points="402.80,252.80 399.01,254.48 398.68,252.30" fill="#000" stroke="none"/>
<text x="370.80" y="255.01" text-anchor="middle" font-size="11.75">539</text>
<line x1="411.10" y1="256.40" x2="461.90" y2="248.90" stroke="#222" stroke-width="0.68" />
<polygon points="411.10,256.40 414.90,254.73 415.22,256.90" fill="#000" stroke="none"/>
<polygon points="461.90,248.90 458.10,250.57 457.78,248.40" fill="#000" stroke="none"/>
<rect x="429.40" y="240.22" width="20.60" height="11.75" fill="#fff"/>
<text x="439.70" y="250.31" text-anchor="middle" font-size="11.75">440</text>
<line x1="428.40" y1="119.80" x2="428.40" y2="289.70" stroke="#222" stroke-width="0.68" />
<polygon points="428.40,119.80 429.50,123.80 427.30,123.80" fill="#000" stroke="none"/>
<polygon points="428.40,289.70 427.30,285.70 429.50,285.70" fill="#000" stroke="none"/>
<text x="421.70" y="201.41" text-anchor="middle" font-size="11.75" transform="rotate(-90 421.70 197.20)">1505</text>
<line x1="472.20" y1="272.20" x2="587.50" y2="255.00" stroke="#222" stroke-width="0.68" />
<polygon points="472.20,272.20 475.99,270.52 476.32,272.70" fill="#000" stroke="none"/>
<polygon points="587.50,255.00 583.71,256.68 583.38,254.50" fill="#000" stroke="none"/>
<text x="524.20" y="261.21" text-anchor="middle" font-size="11.75">999</text>
<line x1="558.50" y1="133.20" x2="558.50" y2="268.00" stroke="#222" stroke-width="0.68" />
<polygon points="558.50,133.20 559.60,137.20 557.40,137.20" fill="#000" stroke="none"/>
<polygon points="558.50,268.00 557.40,264.00 559.60,264.00" fill="#000" stroke="none"/>
<text x="551.40" y="196.61" text-anchor="middle" font-size="11.75" transform="rotate(-90 551.40 192.40)">1225</text>
<line x1="558.60" y1="97.10" x2="558.60" y2="123.00" stroke="#222" stroke-width="0.68" />
<polygon points="558.60,97.10 559.70,101.10 557.50,101.10" fill="#000" stroke="none"/>
<polygon points="558.60,123.00 557.50,119.00 559.70,119.00" fill="#000" stroke="none"/>
<text x="551.00" y="115.71" text-anchor="middle" font-size="11.75" transform="rotate(-90 551.00 111.50)">260</text>
<line x1="421.30" y1="314.40" x2="421.30" y2="353.80" stroke="#222" stroke-width="0.68" />
<polygon points="421.30,314.40 422.40,318.40 420.20,318.40" fill="#000" stroke="none"/>
<line x1="421.30" y1="359.40" x2="421.30" y2="388.40" stroke="#222" stroke-width="0.68" />
<polygon points="421.30,388.40 420.20,384.40 422.40,384.40" fill="#000" stroke="none"/>
<rect x="402.00" y="349.23" width="20.60" height="11.75" fill="#fff" transform="rotate(-90 412.30 355.10)"/>
<text x="412.30" y="359.31" text-anchor="middle" font-size="11.75" transform="rotate(-90 412.30 355.10)">665</text>
<line x1="553.90" y1="292.40" x2="553.90" y2="313.30" stroke="#222" stroke-width="0.68" />
<polygon points="553.90,292.40 555.00,296.40 552.80,296.40" fill="#000" stroke="none"/>
<polygon points="553.90,313.30 552.80,309.30 555.00,309.30" fill="#000" stroke="none"/>
<text x="546.30" y="308.81" text-anchor="middle" font-size="11.75" transform="rotate(-90 546.30 304.60)">220</text>
<line x1="553.90" y1="318.80" x2="553.90" y2="340.30" stroke="#222" stroke-width="0.68" />
<polygon points="553.90,318.80 555.00,322.80 552.80,322.80" fill="#000" stroke="none"/>
<polygon points="553.90,340.30 552.80,336.30 555.00,336.30" fill="#000" stroke="none"/>
<text x="546.30" y="335.31" text-anchor="middle" font-size="11.75" transform="rotate(-90 546.30 331.10)">220</text>
<line x1="553.90" y1="346.40" x2="553.90" y2="366.60" stroke="#222" stroke-width="0.68" />
<polygon points="553.90,346.40 555.00,350.40 552.80,350.40" fill="#000" stroke="none"/>
<polygon points="553.90,366.60 552.80,362.60 555.00,362.60" fill="#000" stroke="none"/>
<text x="546.30" y="362.11" text-anchor="middle" font-size="11.75" transform="rotate(-90 546.30 357.90)">220</text>
<rect x="572.60" y="302.52" width="20.60" height="11.75" fill="#fff"/>
<text x="582.90" y="312.61" text-anchor="middle" font-size="11.75">510</text>
<line x1="562.00" y1="300.70" x2="583.80" y2="324.70" stroke="#222" stroke-width="0.68" />
<polygon points="562.00,300.70 565.50,302.92 563.88,304.40" fill="#000" stroke="none"/>
<polygon points="583.80,324.70 580.30,322.48 581.92,321.00" fill="#000" stroke="none"/>
<rect x="472.00" y="319.52" width="20.60" height="11.75" fill="#fff"/>
<text x="482.30" y="329.61" text-anchor="middle" font-size="11.75">249</text>
<line x1="470.90" y1="334.30" x2="494.60" y2="330.40" stroke="#222" stroke-width="0.68" />
<polygon points="470.90,334.30 474.67,332.57 475.03,334.74" fill="#000" stroke="none"/>
<polygon points="494.60,330.40 490.83,332.13 490.47,329.96" fill="#000" stroke="none"/>
<line x1="20.50" y1="0.00" x2="20.50" y2="484.60" stroke="#666" stroke-width="1.0" stroke-linecap="butt"/>
<line x1="627.50" y1="0.00" x2="627.50" y2="484.60" stroke="#666" stroke-width="1.0" stroke-linecap="butt"/>
<line x1="20.00" y1="0.45" x2="648.00" y2="0.45" stroke="#666" stroke-width="0.9" stroke-linecap="butt"/>
<line x1="42.20" y1="25.10" x2="152.60" y2="7.80" stroke="#222" stroke-width="0.7"/>
<line x1="152.60" y1="7.80" x2="160.10" y2="16.20" stroke="#111" stroke-width="1.0"/>
<line x1="42.20" y1="25.10" x2="49.70" y2="33.50" stroke="#111" stroke-width="1.0"/>
<line x1="49.70" y1="33.50" x2="160.10" y2="16.20" stroke="#111" stroke-width="0.9"/>
<line x1="42.20" y1="25.10" x2="42.20" y2="106.90" stroke="#333" stroke-width="0.6"/>
<line x1="42.20" y1="106.90" x2="49.70" y2="115.30" stroke="#222" stroke-width="0.7"/>
<line x1="49.70" y1="33.50" x2="49.70" y2="115.30" stroke="#111" stroke-width="1.0"/>
<line x1="160.10" y1="16.20" x2="160.10" y2="98.00" stroke="#222" stroke-width="0.7"/>
<line x1="49.70" y1="115.30" x2="160.10" y2="98.00" stroke="#222" stroke-width="0.75"/>
<line x1="49.70" y1="113.25" x2="160.10" y2="95.95" stroke="#222" stroke-width="0.75"/>
<line x1="49.70" y1="86.95" x2="160.10" y2="69.65" stroke="#222" stroke-width="0.75"/>
<line x1="49.70" y1="89.07" x2="160.10" y2="71.77" stroke="#222" stroke-width="0.75"/>
<line x1="79.00" y1="19.33" x2="86.50" y2="27.73" stroke="#0a0a0a" stroke-width="1.3"/>
<line x1="86.50" y1="27.73" x2="86.50" y2="109.53" stroke="#111" stroke-width="1.0"/>
<line x1="115.80" y1="13.57" x2="123.30" y2="21.97" stroke="#0a0a0a" stroke-width="1.3"/>
<line x1="123.30" y1="21.97" x2="123.30" y2="103.77" stroke="#111" stroke-width="1.0"/>
<line x1="68.08" y1="30.62" x2="68.08" y2="110.37" stroke="#555" stroke-width="0.9"/>
<line x1="68.51" y1="78.20" x2="68.51" y2="80.93" stroke="#111" stroke-width="1.0"/>
<line x1="68.51" y1="88.44" x2="68.51" y2="91.18" stroke="#111" stroke-width="1.0"/>
<line x1="104.88" y1="24.85" x2="104.88" y2="104.60" stroke="#555" stroke-width="0.9"/>
<line x1="105.31" y1="72.43" x2="105.31" y2="75.16" stroke="#111" stroke-width="1.0"/>
<line x1="105.31" y1="82.68" x2="105.31" y2="85.41" stroke="#111" stroke-width="1.0"/>
<line x1="141.68" y1="19.09" x2="141.68" y2="98.84" stroke="#555" stroke-width="0.9"/>
<line x1="142.11" y1="66.66" x2="142.11" y2="69.40" stroke="#111" stroke-width="1.0"/>
<line x1="142.11" y1="76.91" x2="142.11" y2="79.64" stroke="#111" stroke-width="1.0"/>
</g>
</svg>
</body>
</html>
